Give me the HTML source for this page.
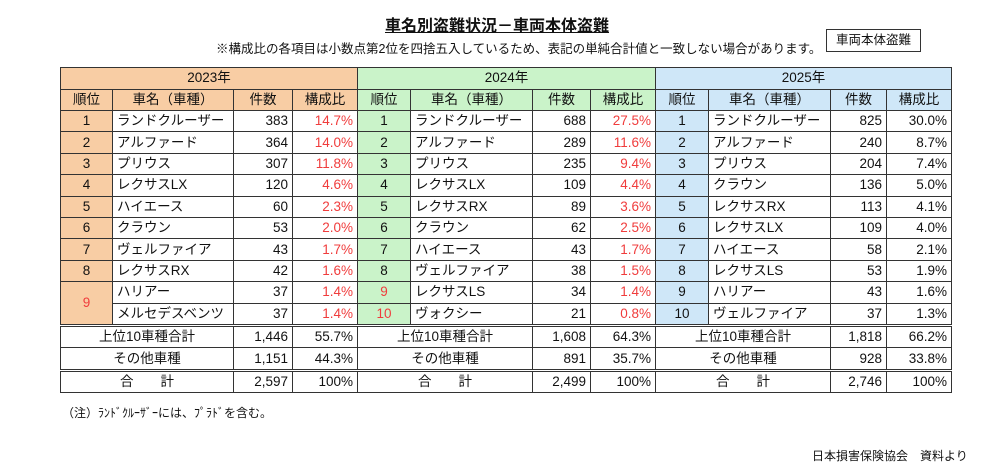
<!DOCTYPE html>
<html><head><meta charset="utf-8"><style>
body{margin:0;width:1000px;height:471px;background:#fff;font-family:"Liberation Sans","Noto Sans CJK JP",sans-serif;color:#111;position:relative;overflow:hidden}
.t{position:absolute}
table{position:absolute;left:60px;top:67px;border-collapse:collapse;table-layout:fixed;font-size:13.5px}
td{border:1px solid #333;padding:0 4px;height:20.4px;line-height:20px;white-space:nowrap;overflow:hidden}
.o{background:#f8cda4}.g{background:#caf3c9}.b{background:#cfe7f8}
.c{text-align:center}.r{text-align:right}.red{color:#f03c3c}
tr.h td{height:20.5px}
tr.s td{height:20.5px;border-top:3px double #333}
</style></head><body>
<div class="t" style="left:385px;top:12px;font-size:16px;font-weight:bold;text-decoration:underline">車名別盗難状況－車両本体盗難</div>
<div class="t" style="left:216px;top:38px;font-size:12.5px">※構成比の各項目は小数点第2位を四捨五入しているため、表記の単純合計値と一致しない場合があります。</div>
<div class="t" style="left:826px;top:29px;width:93px;height:21px;border:1px solid #333;font-size:12.5px;text-align:center;line-height:21px">車両本体盗難</div>
<table>
<colgroup><col style="width:52px"><col style="width:121px"><col style="width:59px"><col style="width:65px"><col style="width:53px"><col style="width:122px"><col style="width:58px"><col style="width:65px"><col style="width:53px"><col style="width:122px"><col style="width:56px"><col style="width:65px"></colgroup>
<tr class="h"><td colspan="4" class="o c">2023年</td><td colspan="4" class="g c">2024年</td><td colspan="4" class="b c">2025年</td></tr>
<tr class="h"><td class="o c">順位</td><td class="o c">車名（車種）</td><td class="o c">件数</td><td class="o c">構成比</td><td class="g c">順位</td><td class="g c">車名（車種）</td><td class="g c">件数</td><td class="g c">構成比</td><td class="b c">順位</td><td class="b c">車名（車種）</td><td class="b c">件数</td><td class="b c">構成比</td></tr>
<tr><td class="o c">1</td><td>ランドクルーザー</td><td class="r">383</td><td class="r red">14.7%</td><td class="g c">1</td><td>ランドクルーザー</td><td class="r">688</td><td class="r red">27.5%</td><td class="b c">1</td><td>ランドクルーザー</td><td class="r">825</td><td class="r">30.0%</td></tr>
<tr><td class="o c">2</td><td>アルファード</td><td class="r">364</td><td class="r red">14.0%</td><td class="g c">2</td><td>アルファード</td><td class="r">289</td><td class="r red">11.6%</td><td class="b c">2</td><td>アルファード</td><td class="r">240</td><td class="r">8.7%</td></tr>
<tr><td class="o c">3</td><td>プリウス</td><td class="r">307</td><td class="r red">11.8%</td><td class="g c">3</td><td>プリウス</td><td class="r">235</td><td class="r red">9.4%</td><td class="b c">3</td><td>プリウス</td><td class="r">204</td><td class="r">7.4%</td></tr>
<tr><td class="o c">4</td><td>レクサスLX</td><td class="r">120</td><td class="r red">4.6%</td><td class="g c">4</td><td>レクサスLX</td><td class="r">109</td><td class="r red">4.4%</td><td class="b c">4</td><td>クラウン</td><td class="r">136</td><td class="r">5.0%</td></tr>
<tr><td class="o c">5</td><td>ハイエース</td><td class="r">60</td><td class="r red">2.3%</td><td class="g c">5</td><td>レクサスRX</td><td class="r">89</td><td class="r red">3.6%</td><td class="b c">5</td><td>レクサスRX</td><td class="r">113</td><td class="r">4.1%</td></tr>
<tr><td class="o c">6</td><td>クラウン</td><td class="r">53</td><td class="r red">2.0%</td><td class="g c">6</td><td>クラウン</td><td class="r">62</td><td class="r red">2.5%</td><td class="b c">6</td><td>レクサスLX</td><td class="r">109</td><td class="r">4.0%</td></tr>
<tr><td class="o c">7</td><td>ヴェルファイア</td><td class="r">43</td><td class="r red">1.7%</td><td class="g c">7</td><td>ハイエース</td><td class="r">43</td><td class="r red">1.7%</td><td class="b c">7</td><td>ハイエース</td><td class="r">58</td><td class="r">2.1%</td></tr>
<tr><td class="o c">8</td><td>レクサスRX</td><td class="r">42</td><td class="r red">1.6%</td><td class="g c">8</td><td>ヴェルファイア</td><td class="r">38</td><td class="r red">1.5%</td><td class="b c">8</td><td>レクサスLS</td><td class="r">53</td><td class="r">1.9%</td></tr>
<tr><td class="o c red" rowspan="2">9</td><td>ハリアー</td><td class="r">37</td><td class="r red">1.4%</td><td class="g c red">9</td><td>レクサスLS</td><td class="r">34</td><td class="r red">1.4%</td><td class="b c">9</td><td>ハリアー</td><td class="r">43</td><td class="r">1.6%</td></tr>
<tr><td>メルセデスベンツ</td><td class="r">37</td><td class="r red">1.4%</td><td class="g c red">10</td><td>ヴォクシー</td><td class="r">21</td><td class="r red">0.8%</td><td class="b c">10</td><td>ヴェルファイア</td><td class="r">37</td><td class="r">1.3%</td></tr>
<tr class="s"><td colspan="2" class="c">上位10車種合計</td><td class="r">1,446</td><td class="r">55.7%</td><td colspan="2" class="c">上位10車種合計</td><td class="r">1,608</td><td class="r">64.3%</td><td colspan="2" class="c">上位10車種合計</td><td class="r">1,818</td><td class="r">66.2%</td></tr>
<tr><td colspan="2" class="c">その他車種</td><td class="r">1,151</td><td class="r">44.3%</td><td colspan="2" class="c">その他車種</td><td class="r">891</td><td class="r">35.7%</td><td colspan="2" class="c">その他車種</td><td class="r">928</td><td class="r">33.8%</td></tr>
<tr class="s"><td colspan="2" class="c">合　　計</td><td class="r">2,597</td><td class="r">100%</td><td colspan="2" class="c">合　　計</td><td class="r">2,499</td><td class="r">100%</td><td colspan="2" class="c">合　　計</td><td class="r">2,746</td><td class="r">100%</td></tr>
</table>
<div class="t" style="left:62px;top:404px;font-size:12px">（注）ﾗﾝﾄﾞｸﾙｰｻﾞｰには、ﾌﾟﾗﾄﾞを含む。</div>
<div class="t" style="left:812px;top:447px;font-size:12px">日本損害保険協会　資料より</div>
</body></html>
